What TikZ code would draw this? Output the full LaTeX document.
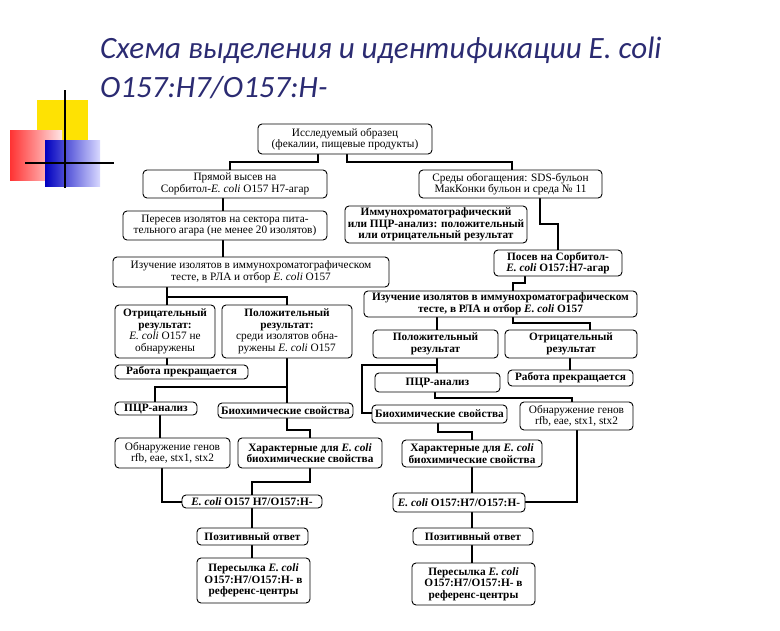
\documentclass[tikz,border=0pt]{standalone}
\usepackage{fontspec}
\setmainfont{Liberation Serif}
\newfontfamily\titlefont{Carlito}
\definecolor{ttl}{HTML}{2B2B72}
\tikzset{
 box/.style={draw=black,line width=0.9pt,rounded corners=4pt,fill=white,align=center,inner sep=0.5pt,font=\fontsize{11.3}{11.6}\selectfont},
 con/.style={line width=2.4pt,line join=miter}
}
\newcommand{\bx}[6]{\node[box,minimum width={#4-#2},minimum height={#5-#3}] (#1) at ({(#2+#4)/2},{(#3+#5)/2}) {#6};}
\newcommand{\ec}{\textit{E. coli}}
\begin{document}
\begin{tikzpicture}[x=1pt,y=-1pt]
\useasboundingbox (0,0) rectangle (780,630);
% decoration
\fill[yellow!85!orange] (37,100) rectangle (88,150);
\shade[left color=red!80, right color=red!10] (10,130) rectangle (62,180);
\shade[left color=blue!75!black, right color=blue!15] (45,140) rectangle (100,186);
\draw[line width=1.6pt] (65,90) -- (65,188);
\draw[line width=1.6pt] (25,163) -- (114,163);
% title
\node[anchor=base west,inner sep=0,text=ttl,font=\titlefont\itshape\fontsize{31}{34}\selectfont] (t1) at (100,58) {Схема выделения и идентификации E. coli};
\node[anchor=base west,inner sep=0,text=ttl,font=\titlefont\itshape\fontsize{31}{34}\selectfont] (t2) at (100,97) {O157:H7/O157:H-};
% connectors first (behind boxes)
\begin{scope}[con]
\draw (318,154) -- (318,162) -- (230,162) -- (230,170);
\draw (347,154) -- (347,162) -- (512,162) -- (512,170);
\draw (223,198) -- (223,211);
\draw (223,240) -- (223,257);
\draw (167,287) -- (167,297) -- (287,297) -- (287,305);
\draw (167,297) -- (167,305);
\draw (167,358) -- (167,365);
\draw (287,358) -- (287,403);
\draw (287,387) -- (155,387) -- (155,402);
\draw (160,415) -- (160,438);
\draw (287,418) -- (287,430) -- (310,430) -- (310,440);
\draw (162,468) -- (162,502) -- (182,502);
\draw (310,468) -- (310,482) -- (252,482) -- (252,495);
\draw (252,508) -- (252,528);
\draw (252,545) -- (252,558);
\draw (540,198) -- (540,224) -- (558,224) -- (558,250);
\draw (525,276) -- (525,283) -- (513,283) -- (513,291);
\draw (437,317) -- (437,330);
\draw (513,317) -- (513,323) -- (590,323) -- (590,330);
\draw (437,358) -- (437,373);
\draw (437,365) -- (362,365) -- (362,413) -- (372,413);
\draw (570,358) -- (570,370);
\draw (435,392) -- (435,398) -- (572,398) -- (572,402);
\draw (438,423) -- (438,432) -- (472,432) -- (472,440);
\draw (472,467) -- (472,493);
\draw (577,430) -- (577,502) -- (525,502);
\draw (472,512) -- (472,528);
\draw (472,545) -- (472,563);
\end{scope}
% boxes
\bx{top}{258}{124}{432}{154}{Исследуемый образец\\(фекалии, пищевые продукты)}
\bx{lA}{143}{170}{327}{198}{Прямой высев на\\Сорбитол-\ec{} O157 H7-агар}
\bx{rA}{419}{170}{602}{198}{Среды обогащения: SDS-бульон\\МакКонки бульон и среда № 11}
\bx{lB}{123}{211}{327}{240}{Пересев изолятов на сектора пита-\\тельного агара (не менее 20 изолятов)}
\bx{rImm}{345}{206}{527}{243}{\bfseries Иммунохроматографический\\\bfseries или ПЦР-анализ: положительный\\\bfseries или отрицательный результат}
\bx{lC}{113}{257}{389}{287}{Изучение изолятов в иммунохроматографическом\\тесте, в РЛА и отбор \ec{} O157}
\bx{rC}{494}{250}{622}{276}{\bfseries Посев на Сорбитол-\\\bfseries\ec{} O157:H7-агар}
\bx{rD}{364}{291}{637}{317}{\bfseries Изучение изолятов в иммунохроматографическом\\\bfseries тесте, в РЛА и отбор \ec{} O157}
\bx{lNeg}{115}{305}{215}{358}{\bfseries Отрицательный\\\bfseries результат:\\\ec{} O157 не\\обнаружены}
\bx{lPos}{222}{305}{352}{358}{\bfseries Положительный\\\bfseries результат:\\среди изолятов обна-\\ружены \ec{} O157}
\bx{rPos}{373}{330}{498}{358}{\bfseries Положительный\\\bfseries результат}
\bx{rNeg}{505}{330}{637}{358}{\bfseries Отрицательный\\\bfseries результат}
\bx{lStop}{115}{365}{248}{379}{\bfseries Работа прекращается}
\bx{rStop}{508}{370}{633}{386}{\bfseries Работа прекращается}
\bx{rPCR}{375}{373}{500}{392}{\bfseries ПЦР-анализ}
\bx{lPCR}{115}{402}{197}{415}{\bfseries ПЦР-анализ}
\bx{lBio}{218}{403}{353}{418}{\bfseries Биохимические свойства}
\bx{rBio}{372}{405}{507}{423}{\bfseries Биохимические свойства}
\bx{rGen}{520}{402}{633}{430}{Обнаружение генов\\rfb, eae, stx1, stx2}
\bx{lGen}{115}{438}{230}{468}{Обнаружение генов\\rfb, eae, stx1, stx2}
\bx{lChar}{238}{438}{382}{468}{\bfseries Характерные для \ec\\\bfseries биохимические свойства}
\bx{rChar}{402}{440}{542}{467}{\bfseries Характерные для \ec\\\bfseries биохимические свойства}
\bx{lRes}{182}{495}{322}{508}{\bfseries\ec{} O157 H7/O157:H-}
\bx{rRes}{393}{493}{525}{512}{\bfseries\ec{} O157:H7/O157:H-}
\bx{lOk}{197}{528}{308}{545}{\bfseries Позитивный ответ}
\bx{rOk}{413}{528}{533}{545}{\bfseries Позитивный ответ}
\bx{lSend}{197}{558}{310}{603}{\bfseries Пересылка \ec\\\bfseries O157:H7/O157:H- в\\\bfseries референс-центры}
\bx{rSend}{412}{563}{535}{605}{\bfseries Пересылка \ec\\\bfseries O157:H7/O157:H- в\\\bfseries референс-центры}
\end{tikzpicture}
\end{document}
